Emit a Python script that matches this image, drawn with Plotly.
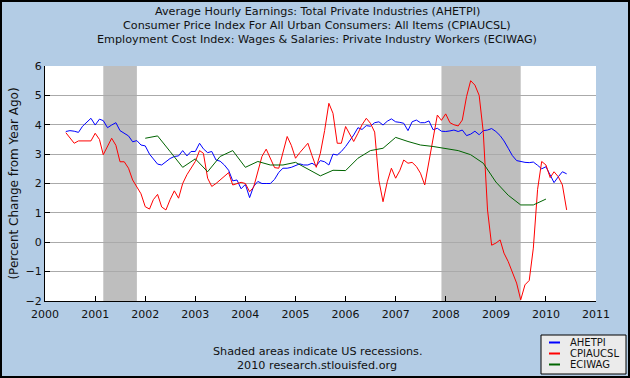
import plotly.graph_objects as go
import pandas as pd

W, H = 630, 378
L, R, T, B = 45, 34, 66, 77  # plot area: x 45..596, y 66..301

# ---------------- data ----------------
months = pd.date_range("2000-06-01", "2010-06-01", freq="MS")
quarters = pd.date_range("2002-01-01", "2010-01-01", freq="QS")

ahetpi = [
    3.77, 3.80, 3.78, 3.74, 3.95, 4.10, 4.22,
    3.99, 4.19, 4.14, 3.90, 3.99, 4.07, 3.80, 3.72, 3.62, 3.42, 3.46, 3.31,
    3.28, 3.00, 2.82, 2.66, 2.63, 2.75, 2.85, 2.92, 2.94, 3.12, 2.94, 3.09,
    3.09, 3.37, 3.18, 3.05, 3.09, 2.80, 2.76, 2.63, 2.45, 2.09, 2.12, 1.82,
    1.97, 1.52, 1.90, 2.07, 2.00, 2.00, 2.00, 2.14, 2.38, 2.52, 2.52, 2.55,
    2.62, 2.67, 2.63, 2.63, 2.69, 2.60, 2.78, 2.74, 2.63, 3.00, 2.97, 3.09,
    3.26, 3.45, 3.65, 3.90, 3.84, 3.97, 3.95, 4.07, 4.10, 3.99, 4.12, 4.20,
    4.10, 4.08, 4.05, 3.80, 4.10, 4.16, 4.07, 4.07, 4.13, 3.83, 3.88, 3.78,
    3.77, 3.79, 3.82, 3.77, 3.82, 3.63, 3.68, 3.78, 3.66, 3.80, 3.82, 3.87,
    3.77, 3.63, 3.45, 3.20, 2.95, 2.78, 2.74, 2.72, 2.71, 2.73, 2.62, 2.50,
    2.57, 2.29, 2.03, 2.23, 2.40, 2.33,
]

cpiaucsl = [
    3.73, 3.55, 3.37, 3.45, 3.45, 3.45, 3.45,
    3.71, 3.50, 2.98, 3.27, 3.54, 3.30, 2.74, 2.74, 2.52, 2.12, 1.90, 1.65,
    1.21, 1.13, 1.45, 1.63, 1.20, 1.10, 1.45, 1.75, 1.50, 2.00, 2.30, 2.50,
    2.75, 3.12, 3.03, 2.18, 1.90, 2.00, 2.12, 2.25, 2.37, 1.95, 2.00, 2.04,
    2.00, 1.72, 1.87, 2.40, 2.92, 3.17, 2.85, 2.54, 2.52, 3.05, 3.60, 3.30,
    2.86, 3.05, 3.20, 3.37, 2.95, 2.55, 3.03, 3.80, 4.73, 4.39, 3.37, 3.37,
    3.94, 3.65, 3.43, 3.71, 4.00, 4.22, 4.05, 3.75, 2.10, 1.38, 2.06, 2.52,
    2.18, 2.45, 2.80, 2.69, 2.72, 2.58, 2.35, 1.95, 2.75, 3.55, 4.33, 4.15,
    4.37, 4.07, 4.00, 3.96, 4.16, 4.96, 5.50, 5.35, 5.00, 3.75, 1.10, -0.10,
    -0.03, 0.08, -0.37, -0.66, -1.00, -1.39, -1.96, -1.45, -1.30, -0.20, 1.80, 2.75,
    2.63, 2.20, 2.40, 2.23, 1.95, 1.10,
]

eciwag = [
    3.54, 3.62, 3.09, 2.55,
    2.84, 2.40, 2.92, 3.12,
    2.55, 2.75, 2.63, 2.63,
    2.72, 2.50, 2.26, 2.45,
    2.44, 2.86, 3.12, 3.20,
    3.57, 3.43, 3.31, 3.26,
    3.18, 3.12, 2.98, 2.69,
    2.05, 1.60, 1.27, 1.27,
    1.47,
]

series_names = ["AHETPI", "CPIAUCSL", "ECIWAG"]
series_colors = ["#0000FF", "#FF0000", "#006400"]

recessions = [("2001-03-01", "2001-11-01"), ("2007-12-01", "2009-07-01")]

title_lines = [
    "Average Hourly Earnings: Total Private Industries (AHETPI)",
    "Consumer Price Index For All Urban Consumers: All Items (CPIAUCSL)",
    "Employment Cost Index: Wages & Salaries: Private Industry Workers (ECIWAG)",
]
footer_lines = ["Shaded areas indicate US recessions.", "2010 research.stlouisfed.org"]

# ---------------- helpers (pixel -> paper) ----------------
PW, PH = W - L - R, H - T - B


def px(x):
    return (x - L) / PW


def py(y):
    return (H - B - y) / PH


FONT = "DejaVu Sans"
BG = "#B3CCE5"
TXT = "#111111"

fig = go.Figure()
xs = [months, months, quarters]
ys = [ahetpi, cpiaucsl, eciwag]
for name, color, x, y in zip(series_names, series_colors, xs, ys):
    fig.add_trace(go.Scatter(x=x, y=y, mode="lines", name=name,
                             line=dict(color=color, width=1), showlegend=False))

shapes = []
for a, b in recessions:
    shapes.append(dict(type="rect", xref="x", yref="paper", x0=a, x1=b, y0=0, y1=1,
                       fillcolor="#BEBEBE", line=dict(width=0), layer="between"))

# outer border
shapes.append(dict(type="rect", xref="paper", yref="paper",
                   x0=px(1), x1=px(629), y0=py(377), y1=py(1),
                   line=dict(color="black", width=2), fillcolor="rgba(0,0,0,0)", layer="above"))

# manual legend box
shapes.append(dict(type="rect", xref="paper", yref="paper",
                   x0=px(541), x1=px(626), y0=py(374), y1=py(335),
                   line=dict(color="black", width=1), fillcolor="#EBEBEB", layer="above"))

annotations = []
leg_rows = [342.5, 353.5, 364.5]
for name, color, yy in zip(series_names, series_colors, leg_rows):
    shapes.append(dict(type="line", xref="paper", yref="paper",
                       x0=px(549), x1=px(560), y0=py(yy), y1=py(yy),
                       line=dict(color=color, width=2), layer="above"))
    annotations.append(dict(xref="paper", yref="paper", x=px(568), y=py(yy),
                            text=name, showarrow=False, xanchor="left", yanchor="middle",
                            font=dict(family=FONT, size=10, color=TXT)))

for txt, yy in zip(title_lines, [11.5, 25.5, 39.5]):
    annotations.append(dict(xref="paper", yref="paper", x=px(317), y=py(yy),
                            text=txt, showarrow=False, xanchor="center", yanchor="middle",
                            font=dict(family=FONT, size=11.2, color=TXT)))

for txt, yy in zip(footer_lines, [351.5, 365]):
    annotations.append(dict(xref="paper", yref="paper", x=px(317), y=py(yy),
                            text=txt, showarrow=False, xanchor="center", yanchor="middle",
                            font=dict(family=FONT, size=11.2, color=TXT)))

fig.update_layout(
    width=W, height=H,
    margin=dict(l=L, r=R, t=T, b=B, pad=0),
    paper_bgcolor=BG, plot_bgcolor="white",
    font=dict(family=FONT, size=11, color=TXT),
    shapes=shapes, annotations=annotations,
    showlegend=False,
)

fig.update_xaxes(type="date", range=["2000-01-01", "2011-01-01"], dtick="M12",
                 tick0="2000-01-01", tickformat="%Y",
                 ticks="inside", ticklen=5, tickcolor="black",
                 showline=True, linecolor="black", linewidth=1,
                 showgrid=False, zeroline=False, ticklabelstandoff=3,
                 tickfont=dict(family=FONT, size=11, color=TXT))

fig.update_yaxes(range=[-2, 6], dtick=1, tick0=0,
                 ticks="inside", ticklen=5, tickcolor="black",
                 showline=True, linecolor="black", linewidth=1,
                 showgrid=True, gridcolor="#AAAAAA", gridwidth=1, zeroline=False,
                 tickfont=dict(family=FONT, size=11, color=TXT),
                 title=dict(text="(Percent Change from Year Ago)", standoff=4,
                            font=dict(family=FONT, size=12, color=TXT)))

fig.write_html("out.html", config={"displayModeBar": False},
               post_script="document.body.style.margin='0';")
